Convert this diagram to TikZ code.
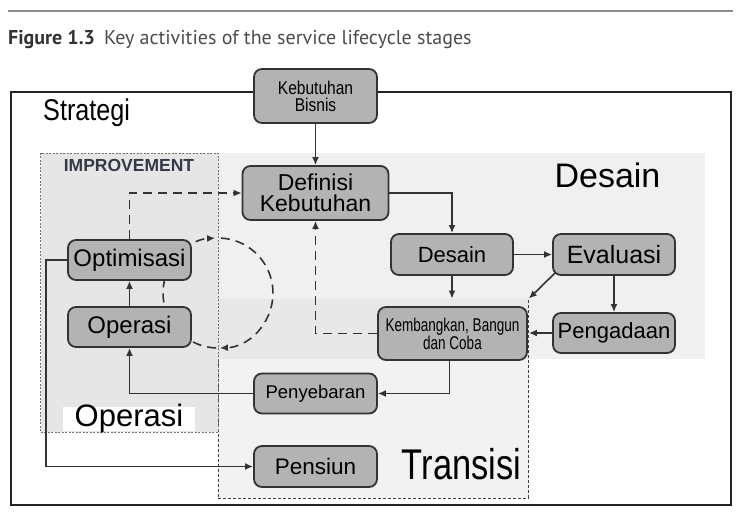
\documentclass[tikz,border=0pt]{standalone}
\usepackage{fontspec}
\setmainfont{Liberation Sans}
\newfontfamily\narrowfont[FakeStretch=0.73]{Liberation Sans}
\newfontfamily\slimfont[FakeStretch=0.8]{Liberation Sans}
\newfontfamily\semifont[FakeStretch=0.84]{Liberation Sans}
\newfontfamily\captionfont{PT Sans}
\usetikzlibrary{arrows.meta,positioning}
\definecolor{frameline}{HTML}{222222}
\definecolor{boxfill}{HTML}{B3B3B3}
\definecolor{boxline}{HTML}{333333}
\definecolor{desainbg}{HTML}{F1F0F1}
\definecolor{improvebg}{HTML}{E7E6E7}
\definecolor{transisibg}{HTML}{F3F2F3}
\definecolor{overlapbg}{HTML}{E9E8E9}
\definecolor{improvetext}{HTML}{343A45}
\newcommand{\fsz}[2]{\fontsize{#1}{#2}\selectfont}
\tikzset{
  stage/.style={draw=boxline, fill=boxfill, line width=1.8pt, rounded corners=8pt,
    inner sep=0pt, align=center, minimum width=123pt, minimum height=40pt},
  flowline/.style={draw=boxline, line width=1.6pt, -{Latex[length=8pt,width=7pt]}},
  dashflow/.style={flowline, dash pattern=on 9pt off 6pt},
}

\begin{document}
\begin{tikzpicture}[x=1pt,y=1pt]
  \useasboundingbox (0,0) rectangle (745,517);
  % caption
  \draw[black!45, line width=1.5pt] (8,506) -- (733,506);
  \node[anchor=base west, inner sep=0, font=\captionfont\fsz{20}{20}, text=black!80] (caption) at (8,472)
    {\textbf{Figure 1.3}\hspace{9pt}{\color{black!70}Key activities of the service lifecycle stages}};
  % regions
  \fill[desainbg] (218,158) rectangle (705,364);
  \node[draw=black!75, dash pattern=on 3pt off 2pt, line width=0.8pt, fill=transisibg,
    minimum width=310.5pt, minimum height=199pt, inner sep=0pt] (transisi) at (373.25,118.5) {};
  \fill[overlapbg] (218.4,158) rectangle (528.1,217.6);
  \node[draw=black!55, dash pattern=on 2pt off 1.5pt, line width=0.9pt, fill=improvebg,
    minimum width=177.3pt, minimum height=279pt, inner sep=0pt] (improvement) at (129.35,224.5) {};
  \fill[white] (63,86.3) rectangle (195,110.3);
  \draw[frameline, line width=2pt] (10.5,12) rectangle (730.5,425);
  % labels
  \node[anchor=base west, inner sep=0, font=\semifont\fsz{30}{30}] (strategi) at (43,396) {Strategi};
  \node[inner sep=0, font=\bfseries\fsz{17.5}{17.5}, text=improvetext] (improvelabel) at (129,352) {IMPROVEMENT};
  \node[anchor=base, inner sep=0, font=\fsz{34}{34}] (desainlabel) at (607.5,329) {Desain};
  \node[anchor=base, inner sep=0, font=\fsz{31}{31}] (operasilabel) at (129,90.3) {Operasi};
  \node[anchor=base, inner sep=0, font=\slimfont\fsz{43}{43}] (transisilabel) at (461.5,37) {Transisi};
  % improvement loop
  \coordinate (hub) at (218,224);
  \draw[dashflow] (hub) ++(160:55) arc[start angle=160, end angle=93, radius=55];
  \draw[dashflow] (hub) ++(87:55) arc[start angle=87, end angle=-88, radius=55];
  \draw[dashflow,-] (hub) ++(-92:55) arc[start angle=-92, end angle=-200, radius=55];
  % stages
  \node[stage, minimum height=54pt, font=\semifont\fsz{18.5}{17}] (kebutuhan) at (315.5,421) {Kebutuhan\\Bisnis};
  \node[stage, minimum width=146pt, minimum height=54pt, font=\fsz{23}{21}] (definisi) at (315.5,324) {Definisi\\Kebutuhan};
  \node[stage, minimum width=122pt, minimum height=41pt, font=\fsz{22}{22}] (desain) at (452,262.5) {Desain};
  \node[stage, minimum width=122pt, minimum height=41pt, font=\fsz{25}{25}] (evaluasi) at (614,262.5) {Evaluasi};
  \node[stage, minimum width=122pt, font=\fsz{22}{22}] (pengadaan) at (614,184) {Pengadaan};
  \node[stage, minimum width=149pt, minimum height=53pt, font=\narrowfont\fsz{18.5}{18}] (kembangkan) at (452.5,183.5) {Kembangkan, Bangun\\dan Coba};
  \node[stage, font=\fsz{18.5}{18.5}] (penyebaran) at (315.5,123.5) {Penyebaran};
  \node[stage, minimum height=41pt, font=\fsz{22.5}{22.5}] (pensiun) at (315.5,50.5) {Pensiun};
  \node[stage, font=\fsz{24}{24}] (optimisasi) at (129.5,257) {Optimisasi};
  \node[stage, font=\fsz{24}{24}] (operasi) at (129.5,190) {Operasi};
  % connectors
  \draw[flowline] (kebutuhan) -- (definisi);
  \draw[flowline] (definisi.east) -| (desain.north);
  \draw[flowline] (desain) -- (evaluasi);
  \draw[flowline] (desain.south) -- (desain.south |- transisi.north);
  \draw[flowline] ([shift={(3pt,3pt)}]evaluasi.south west) -- (transisi.north east);
  \draw[flowline] (evaluasi) -- (pengadaan);
  \draw[flowline] (pengadaan.west) -- (pengadaan.west -| transisi.east);
  \draw[flowline] ([xshift=-3pt]kembangkan.south) |- (penyebaran.east);
  \draw[flowline] (penyebaran.west) -| (operasi.south);
  \draw[flowline] (operasi) -- (optimisasi);
  \draw[flowline] (optimisasi.west) -- ++(-21,0) |- (pensiun.west);
  \draw[dashflow] (optimisasi.north) |- (definisi.west);
  \draw[dashflow] (kembangkan.west) -| (definisi.south);
\end{tikzpicture}
\end{document}
